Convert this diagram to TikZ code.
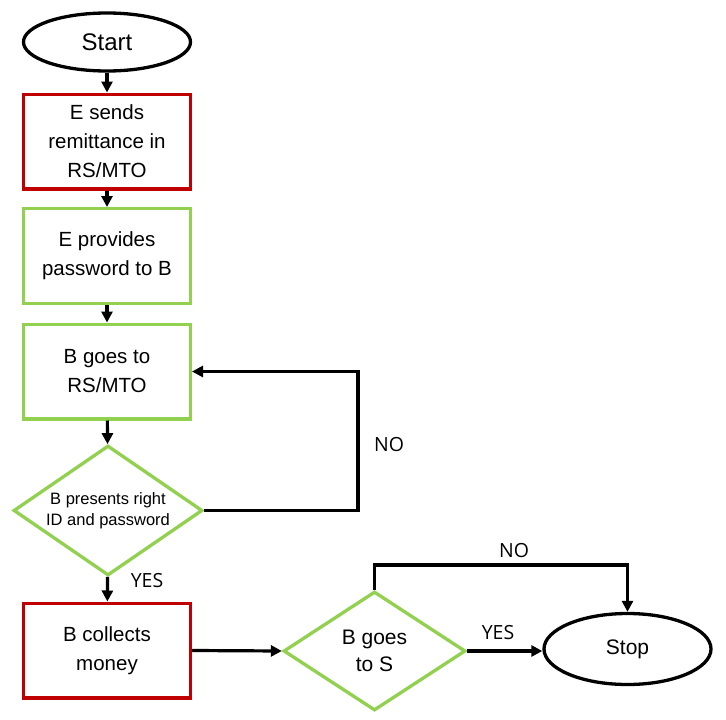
\documentclass[tikz,border=0pt]{standalone}
\usepackage{fontspec}
\setmainfont{Liberation Sans}
\newfontfamily\lblfont{Open Sans}
\usetikzlibrary{shapes.geometric,arrows.meta,calc}
\definecolor{boxred}{HTML}{C00000}
\definecolor{boxgreen}{HTML}{92D050}
\begin{document}
\begin{tikzpicture}[x=1pt,y=-1pt,
  basebox/.style={rectangle,line width=3.3pt,minimum width=166.7pt,minimum height=94.7pt,inner sep=0pt,align=center,font=\fontsize{20.5}{29}\selectfont},
  redbox/.style={basebox,draw=boxred},
  greenbox/.style={basebox,draw=boxgreen},
  decision/.style={diamond,draw=boxgreen,line width=3.3pt,inner sep=0pt,minimum width=#1},
  term/.style={ellipse,draw=black,line width=3.3pt,inner sep=0pt,minimum width=167pt,minimum height=58pt},
  arr/.style={line width=3.2pt,-{Triangle[length=11pt,width=11pt]}},
  lbl/.style={font=\lblfont\fontsize{19.5}{22}\selectfont,inner sep=0pt}
]
\useasboundingbox (0,0) rectangle (726,720);
\fill[white] (0,0) rectangle (726,720);

\node[term,font=\fontsize{24}{28}\selectfont] (start) at (107,42) {Start};
\node[redbox] (send) at (107,141.5) {E sends\\remittance in\\RS/MTO};
\node[greenbox] (pass) at (107,256) {E provides\\password to B};
\node[greenbox] (goes) at (107,371.5) {B goes to\\RS/MTO};
\node[decision=189pt,minimum height=130pt,
  label={[font=\fontsize{16.5}{21}\selectfont,align=center]center:B presents right\\ID and password}] (check) at (108,510.5) {};
\node[redbox] (collect) at (107,650.5) {B collects\\money};
\node[decision=182pt,minimum height=119pt,
  label={[font=\fontsize{21}{27}\selectfont,align=center]center:B goes\\to S}] (gos) at (374.5,651) {};
\node[term,minimum height=71pt,font=\fontsize{21}{25}\selectfont] (stop) at (627.5,649) {Stop};

\coordinate (loopx) at (358,0);
\coordinate (topy) at (0,565);

\draw[arr] (start) -- (send);
\draw[arr] (send) -- (pass);
\draw[arr] (pass) -- (goes);
\draw[arr] (goes) -- (check);
\draw[arr] (check) -- (collect);
\draw[arr] (check.east) -- (check.east -| loopx) |- (goes.east);
\draw[arr] (collect.east) -- (gos.west);
\draw[arr] (gos.east) -- (gos.east -| stop.west);
\draw[arr] (gos.north) -- (gos.north |- topy) -| (stop.north);

\node[lbl] (no1) at (389,445) {NO};
\node[lbl] (yes1) at (147,581) {YES};
\node[lbl] (yes2) at (498,633) {YES};
\node[lbl] (no2) at (514,551) {NO};
\end{tikzpicture}
\end{document}
